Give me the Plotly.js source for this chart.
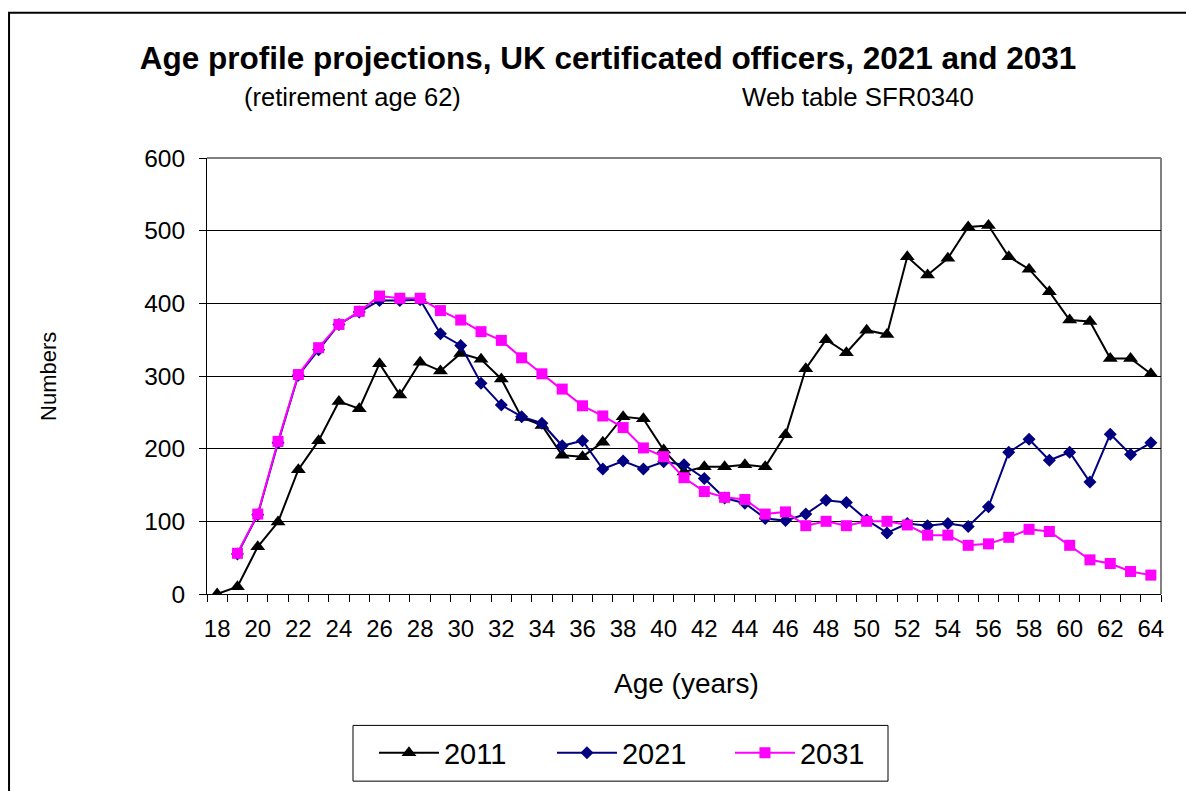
<!DOCTYPE html>
<html>
<head>
<meta charset="utf-8">
<script src="https://cdn.plot.ly/plotly-3.0.1.min.js"></script>
<style>html,body{margin:0;padding:0;background:#fff;}#chart{width:1186px;height:791px;}</style>
</head>
<body>
<div id="chart"></div>
<script>
const ages = [18,19,20,21,22,23,24,25,26,27,28,29,30,31,32,33,34,35,36,37,38,39,40,41,42,43,44,45,46,47,48,49,50,51,52,53,54,55,56,57,58,59,60,61,62,63,64];
const y2011 = [0,10,65,99,171,211,265,255,317,274,319,307,331,323,296,243,232,191,189,209,244,241,198,168,175,175,178,175,219,310,350,332,363,357,464,439,462,505,507,464,447,416,377,375,324,324,303];
const y2021 = [null,55,109,208,301,336,371,388,404,404,405,358,342,290,260,244,235,204,211,172,183,172,182,178,159,132,125,104,101,110,129,126,102,84,97,94,97,93,120,195,213,184,195,154,220,192,208];
const y2031 = [null,56,110,210,302,339,371,389,410,407,407,390,377,361,349,325,303,282,259,245,229,201,189,160,141,133,130,110,113,94,100,94,100,100,95,81,81,67,69,78,89,86,67,47,42,31,26];
const seriesNames = ['2011','2021','2031'];
const xTickVals = [18,20,22,24,26,28,30,32,34,36,38,40,42,44,46,48,50,52,54,56,58,60,62,64];
const yTickVals = [0,100,200,300,400,500,600];

const FONT = 'Liberation Sans, Arial, Helvetica, sans-serif';

const traces = [
  {x: ages, y: y2011, name: seriesNames[0], type: 'scatter', mode: 'lines+markers',
   line: {color: '#000000', width: 2}, marker: {symbol: 'triangle-up', size: 13, color: '#000000'}},
  {x: ages, y: y2021, name: seriesNames[1], type: 'scatter', mode: 'lines+markers',
   line: {color: '#000080', width: 2}, marker: {symbol: 'diamond', size: 10, color: '#000080'}},
  {x: ages, y: y2031, name: seriesNames[2], type: 'scatter', mode: 'lines+markers',
   line: {color: '#FF00FF', width: 2}, marker: {symbol: 'square', size: 11, color: '#FF00FF'}}
];

const layout = {
  width: 1186, height: 791,
  margin: {l: 207, r: 25, t: 158, b: 195},
  paper_bgcolor: '#ffffff', plot_bgcolor: '#ffffff',
  font: {family: FONT, color: '#000000', size: 24},
  title: {text: '<b>Age profile projections, UK certificated officers, 2021 and 2031</b>',
          font: {family: FONT, size: 31.5, color: '#000'},
          xref: 'container', yref: 'container', x: 0.5127, y: 0.9267, xanchor: 'center', yanchor: 'middle'},
  xaxis: {
    type: 'linear', range: [17.5, 64.5], autorange: false,
    tickmode: 'array', tickvals: xTickVals, ticktext: xTickVals.map(String),
    ticks: '', showgrid: false, zeroline: false,
    showline: true, linecolor: '#000', linewidth: 1,
    tickfont: {family: FONT, size: 24, color: '#000'},
    ticklabelstandoff: 13,
    minor: {ticks: 'outside', tick0: 17.5, dtick: 1, ticklen: 7, tickcolor: '#000', tickwidth: 1, showgrid: false}
  },
  yaxis: {
    range: [0, 600], autorange: false,
    tickmode: 'array', tickvals: yTickVals,
    ticks: 'outside', ticklen: 7, tickcolor: '#000', tickwidth: 1,
    showgrid: true, gridcolor: '#000', gridwidth: 1, zeroline: false,
    showline: true, linecolor: '#000', linewidth: 1,
    tickfont: {family: FONT, size: 24.5, color: '#000'},
    ticklabelstandoff: 9
  },
  showlegend: true,
  legend: {orientation: 'h', x: 0.175, y: -0.306, xanchor: 'left', yanchor: 'top',
           borderwidth: 0, bgcolor: 'rgba(255,255,255,0)',
           font: {family: FONT, size: 29, color: '#000'},
           itemwidth: 60, entrywidth: 103, entrywidthmode: 'pixels', tracegroupgap: 0},
  annotations: [
    {text: '(retirement age 62)', xref: 'paper', yref: 'paper', x: 0.152, y: 1.139,
     xanchor: 'center', yanchor: 'middle', showarrow: false, font: {family: FONT, size: 25.5, color: '#000'}},
    {text: 'Web table SFR0340', xref: 'paper', yref: 'paper', x: 0.682, y: 1.139,
     xanchor: 'center', yanchor: 'middle', showarrow: false, font: {family: FONT, size: 25.8, color: '#000'}},
    {text: 'Age (years)', xref: 'paper', yref: 'paper', x: 0.503, y: -0.2055,
     xanchor: 'center', yanchor: 'middle', showarrow: false, font: {family: FONT, size: 28, color: '#000'}},
    {text: 'Numbers', xref: 'paper', yref: 'paper', x: -0.1667, y: 0.5, textangle: -90,
     xanchor: 'center', yanchor: 'middle', showarrow: false, font: {family: FONT, size: 22, color: '#000'}}
  ],
  shapes: [
    {type: 'rect', xref: 'paper', yref: 'paper', x0: -0.2075, x1: 1.05, y0: -0.5, y1: 1.333,
     line: {color: '#000', width: 2}, fillcolor: 'rgba(0,0,0,0)', layer: 'below'},
    {type: 'line', xref: 'paper', yref: 'paper', x0: 0, x1: 1, y0: 1, y1: 1, line: {color: '#808080', width: 2}, layer: 'below'},
    {type: 'line', xref: 'paper', yref: 'paper', x0: 1, x1: 1, y0: 0, y1: 1, line: {color: '#808080', width: 2}, layer: 'below'},
    {type: 'rect', xref: 'paper', yref: 'paper',
     x0: (353 - 207) / 954, x1: (888 - 207) / 954, y0: (596 - 784) / 438, y1: (596 - 728) / 438,
     line: {color: '#000', width: 1}, fillcolor: '#ffffff', layer: 'below'}
  ]
};

Plotly.newPlot('chart', traces, layout, {displayModeBar: false, staticPlot: true});
</script>
</body>
</html>
